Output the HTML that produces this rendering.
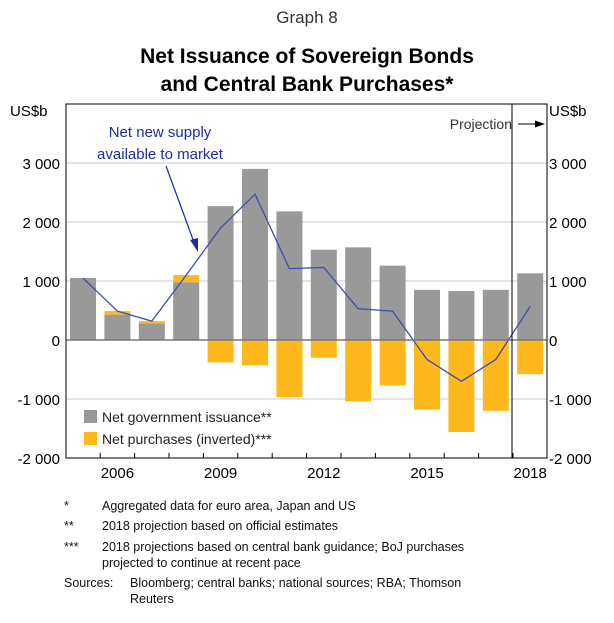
<!DOCTYPE html>
<html><head><meta charset="utf-8"><style>
body{margin:0;background:#fff;font-family:"Liberation Sans",Arial,sans-serif;}
svg text{font-family:"Liberation Sans",Arial,sans-serif;}
</style></head><body>
<svg id="c" width="614" height="618" xmlns="http://www.w3.org/2000/svg">
<text x="307" y="23" text-anchor="middle" font-size="17" fill="#333">Graph 8</text>
<text x="307" y="63" text-anchor="middle" font-size="21" font-weight="bold">Net Issuance of Sovereign Bonds</text>
<text x="307" y="91" text-anchor="middle" font-size="21" font-weight="bold">and Central Bank Purchases*</text>
<g id="grid"></g><g id="bars"></g><g id="line"></g><g id="axes"></g>
<text x="512" y="129" font-size="14" fill="#333" text-anchor="end">Projection</text>
<line x1="518" y1="124" x2="540" y2="124" stroke="#000"/>
<polygon points="545,124 535,120.5 535,127.5" fill="#000"/>
<text x="160" y="137" text-anchor="middle" font-size="15" fill="#1a2fa0">Net new supply</text>
<text x="160" y="159" text-anchor="middle" font-size="15" fill="#1a2fa0">available to market</text>
<line x1="166" y1="166" x2="195" y2="245" stroke="#1a2fa0" stroke-width="1.2"/>
<polygon points="198,252 190,240 198,238" fill="#1a2fa0"/>
<rect x="84" y="410" width="13" height="13" fill="#999"/>
<text x="102" y="422" font-size="14" fill="#222">Net government issuance**</text>
<rect x="84" y="432" width="13" height="13" fill="#ffb81c"/>
<text x="102" y="444" font-size="14" fill="#222">Net purchases (inverted)***</text>
<g font-size="12.5" fill="#111">
<text x="64" y="510">*</text><text x="102" y="510">Aggregated data for euro area, Japan and US</text>
<text x="64" y="530">**</text><text x="102" y="530">2018 projection based on official estimates</text>
<text x="64" y="551">***</text><text x="102" y="551">2018 projections based on central bank guidance; BoJ purchases</text>
<text x="102" y="567">projected to continue at recent pace</text>
<text x="64" y="587">Sources:</text><text x="130" y="587">Bloomberg; central banks; national sources; RBA; Thomson</text>
<text x="130" y="603">Reuters</text>
</g>
</svg>
<script>
const years=[2005,2006,2007,2008,2009,2010,2011,2012,2013,2014,2015,2016,2017,2018];
const govIssuance=[1050,430,280,980,2270,2900,2180,1530,1570,1260,850,830,850,1130];
const purchases=[0,60,40,120,-380,-430,-970,-300,-1040,-770,-1180,-1560,-1200,-580];
const netSupply=[1050,490,320,1100,1900,2470,1210,1230,530,490,-330,-700,-330,570];
const yTicks=[3000,2000,1000,0,-1000,-2000];
const yTickLabels=["3 000","2 000","1 000","0","-1 000","-2 000"];
const xLabelYears=[2006,2009,2012,2015,2018];
const NS="http://www.w3.org/2000/svg";
const L=66,R=547,T=104,B=458;
const x=y=>83+(y-2005)*34.4;
const yv=v=>340-v*0.059;
function mk(p,t,a){const e=document.createElementNS(NS,t);for(const k in a)e.setAttribute(k,a[k]);document.getElementById(p).appendChild(e);return e;}
yTicks.forEach((v,i)=>{
 if(v!==0&&v!==-2000){const g=mk('grid','line',{x1:L,x2:R,y1:yv(v),y2:yv(v),stroke:'#c8c8c8'});
 
 }
 const a=mk('axes','text',{x:L-6,y:yv(v)+6,'text-anchor':'end','font-size':15});a.textContent=yTickLabels[i];
 
 
 const b=mk('axes','text',{x:R+2,y:yv(v)+6,'font-size':15});b.textContent=yTickLabels[i];
 
 
});
years.forEach((yr,i)=>{
 const g=govIssuance[i],p=purchases[i],w=26,x0=x(yr)-13;
 const r=mk('bars','rect',{x:x0,y:yv(g),width:w,height:yv(0)-yv(g),fill:'#999'});
 
 
 if(p!==0){let o;
  if(p>0)o=mk('bars','rect',{x:x0,y:yv(g+p),width:w,height:yv(g)-yv(g+p),fill:'#ffb81c'});
  else o=mk('bars','rect',{x:x0,y:yv(0),width:w,height:yv(p)-yv(0),fill:'#ffb81c'});
  
  }
});
const ln=mk('line','polyline',{points:years.map((yr,i)=>x(yr)+','+yv(netSupply[i])).join(' '),fill:'none',stroke:'#3a4fb0','stroke-width':1.3});


const z=mk('axes','line',{x1:L,x2:R,y1:yv(0),y2:yv(0),stroke:'#777','stroke-width':1.5});


const fr=mk('axes','rect',{x:L,y:T,width:R-L,height:B-T,fill:'none',stroke:'#000'});


const pl=mk('axes','line',{x1:512,x2:512,y1:T,y2:B,stroke:'#000'});


years.slice(0,-1).forEach(yr=>{const t=mk('axes','line',{x1:x(yr)+17.2,x2:x(yr)+17.2,y1:B,y2:B-5,stroke:'#000'});
 
 });
xLabelYears.forEach(yr=>{const t=mk('axes','text',{x:x(yr),y:B+20,'text-anchor':'middle','font-size':15});t.textContent=yr;
 
 });
const u1=mk('axes','text',{x:10,y:116,'font-size':15});u1.textContent='US$b';


const u2=mk('axes','text',{x:549,y:116,'font-size':15});u2.textContent='US$b';


</script>
</body></html>
